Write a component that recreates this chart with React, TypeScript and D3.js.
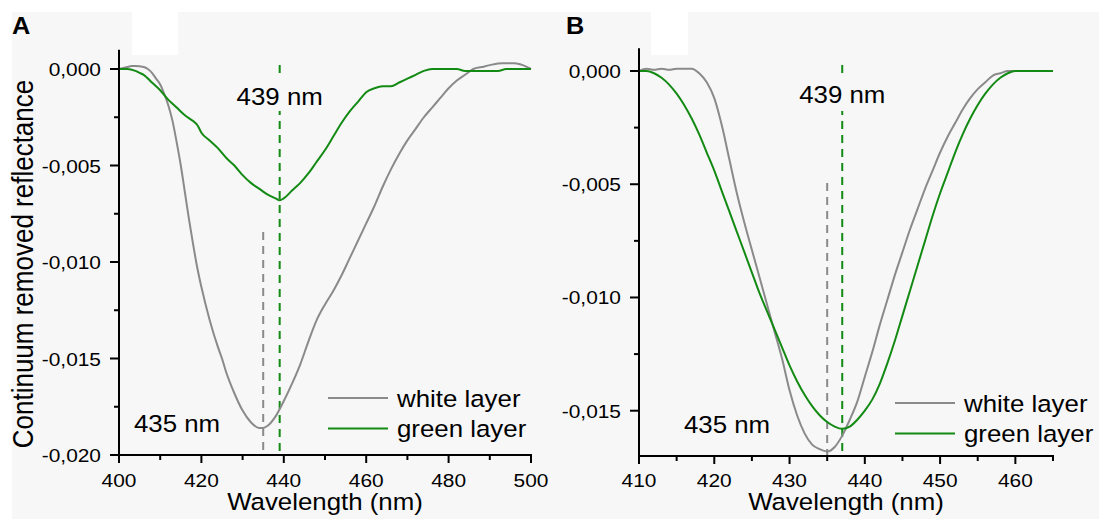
import React from 'react';
import * as d3 from 'd3';

// panel A: wavelengths (nm) and continuum removed reflectance
const whiteWaveA = [400, 402, 403, 404, 406, 407, 408, 409, 410, 411, 412, 413, 414, 415, 416, 417, 418, 419, 420, 422, 424, 425, 426, 428, 430, 432, 434, 435, 436, 438, 440, 442, 444, 446, 448, 450, 452, 454, 456, 458, 460, 462, 464, 466, 468, 470, 472, 474, 476, 478, 480, 482, 484, 486, 488, 490, 493, 496, 498, 500];
const whiteA = [0, 0.0001, 0.00015, 0.00015, 0.0001, 0, -0.0002, -0.0005, -0.0008, -0.0013, -0.0019, -0.0027, -0.0038, -0.005, -0.0064, -0.0078, -0.0091, -0.0103, -0.0113, -0.013, -0.0144, -0.015, -0.0157, -0.0168, -0.0177, -0.0183, -0.0186, -0.0186, -0.0185, -0.018, -0.0172, -0.0163, -0.0153, -0.0141, -0.013, -0.0122, -0.0115, -0.0107, -0.0098, -0.0089, -0.008, -0.0071, -0.0061, -0.0052, -0.0044, -0.0037, -0.0031, -0.0025, -0.002, -0.0015, -0.001, -0.0006, -0.0003, 0, 0.0001, 0.0002, 0.0003, 0.0003, 0.0002, 0];
const greenWaveA = [400, 402, 404, 405, 406, 408, 410, 412, 414, 416, 418, 419, 420, 422, 424, 426, 428, 430, 432, 434, 436, 438, 439, 440, 442, 444, 446, 448, 450, 452, 454, 456, 458, 460, 462, 464, 466, 468, 470, 472, 474, 476, 478, 480, 482, 484, 486, 488, 490, 492, 494, 496, 498, 500];
const greenA = [0, 0, -0.0001, -0.0002, -0.0003, -0.0007, -0.0011, -0.0016, -0.002, -0.0024, -0.0027, -0.0029, -0.0033, -0.0037, -0.0041, -0.0046, -0.005, -0.0055, -0.0059, -0.0062, -0.0065, -0.0067, -0.0068, -0.0067, -0.0063, -0.0059, -0.0054, -0.0048, -0.0042, -0.0035, -0.0028, -0.0022, -0.0017, -0.0012, -0.001, -0.0009, -0.0009, -0.0007, -0.0005, -0.0003, -0.0001, 0, 0, 0, 0, -0.0001, -0.0001, -0.0001, -0.0001, -0.0001, 0, 0, 0, 0];

// panel B
const waveB = d3.range(410, 466);
const whiteB = [0, 0.0001, 0.00005, 0.0001, 0.00005, 0.0001, 0.0001, 0.0001, -0.0001, -0.0005, -0.0012, -0.0024, -0.0039, -0.0054, -0.0067, -0.0079, -0.0091, -0.0103, -0.0115, -0.0127, -0.0141, -0.0152, -0.016, -0.0165, -0.0167, -0.0168, -0.0166, -0.0161, -0.0154, -0.0146, -0.0135, -0.0124, -0.0112, -0.0101, -0.009, -0.008, -0.007, -0.0061, -0.0052, -0.0044, -0.0036, -0.0029, -0.0023, -0.0017, -0.0012, -0.0008, -0.0005, -0.0002, -0.0001, 0, 0, 0, 0, 0, 0, 0];
const greenB = [0, 0, -0.0001, -0.0003, -0.0006, -0.001, -0.0015, -0.0021, -0.0028, -0.0036, -0.0044, -0.0053, -0.0062, -0.0071, -0.008, -0.0089, -0.0098, -0.0106, -0.0114, -0.0122, -0.013, -0.0137, -0.0143, -0.0148, -0.0152, -0.0155, -0.0157, -0.0158, -0.0157, -0.0154, -0.015, -0.0145, -0.0138, -0.0129, -0.0119, -0.0108, -0.0097, -0.0086, -0.0075, -0.0064, -0.0054, -0.0045, -0.0036, -0.0028, -0.0021, -0.0015, -0.001, -0.0006, -0.0003, -0.0001, 0, 0, 0, 0, 0, 0];

const seriesNames = ['white layer', 'green layer'];
const GRAY = '#8a8a8a';
const GREEN = '#138a13';
const BG = '#f7f7f7';
const FONT = '"Liberation Sans", Arial, sans-serif';
const SX = 1.1; // the original text is slightly wider than tall

const fmt = d3.formatLocale({ decimal: ',', thousands: '.', grouping: [3], currency: ['', ''], minus: '-' }).format('.3f');

const Txt = ({ x, y, size, anchor = 'start', weight = 'normal', children }) => (
  <text
    transform={`translate(${x},${y}) scale(${SX},1)`}
    fontSize={size}
    fontFamily={FONT}
    fontWeight={weight}
    textAnchor={anchor}
    fill="#000"
  >
    {children}
  </text>
);

const Panel = ({ cfg }) => {
  const x = d3.scaleLinear().domain(cfg.xDomain).range(cfg.xRange);
  const y = d3.scaleLinear().domain([cfg.yMin, 0]).range(cfg.yRange);
  const line = d3.line().x(d => x(d[0])).y(d => y(d[1])).curve(d3.curveMonotoneX);
  const xMajor = d3.range(cfg.xDomain[0], cfg.xDomain[1] + 0.1, cfg.xStep);
  const xMinor = d3.range(cfg.xDomain[0] + cfg.xStep / 2, cfg.xDomain[1] + 0.1, cfg.xStep);
  const nMaj = Math.round(-cfg.yMin / 0.005 + 0.0001);
  const yMajor = d3.range(0, Math.floor(-cfg.yMin / 0.005 + 1e-6) + 1).map(i => -i * 0.005);
  const yMinor = d3.range(0, nMaj + 1).map(i => -0.0025 - i * 0.005).filter(v => v >= cfg.yMin);
  const x0 = cfg.xRange[0];
  const x1 = cfg.xRange[1];
  const yb = y(cfg.yMin);
  const yt = y(0.001);
  const lg = cfg.legend;

  return (
    <g>
      <Txt x={cfg.letterX} y={34} size={23} weight="bold">{cfg.letter}</Txt>

      {/* reference lines at band minima */}
      <line x1={x(435)} x2={x(435)} y1={cfg.grayDashTop} y2={yb} stroke={GRAY} strokeWidth={2} strokeDasharray="8 6" />
      <line x1={x(cfg.greenMin)} x2={x(cfg.greenMin)} y1={65} y2={yb} stroke={GREEN} strokeWidth={2} strokeDasharray="8 6" />
      <rect x={x(cfg.greenMin) - 46} y={78} width={92} height={33} fill={BG} />
      <Txt x={x(cfg.greenMin)} y={cfg.label439Y} size={23.5} anchor="middle">439 nm</Txt>
      <Txt x={cfg.label435X} y={cfg.label435Y} size={23.5} anchor="middle">435 nm</Txt>

      <path d={line(cfg.whiteWave.map((w, i) => [w, cfg.white[i]]))} fill="none" stroke={GRAY} strokeWidth={2} />
      <path d={line(cfg.greenWave.map((w, i) => [w, cfg.green[i]]))} fill="none" stroke={GREEN} strokeWidth={2} />

      {/* axes */}
      <line x1={x0} x2={x0} y1={yt} y2={yb + 1} stroke="#000" strokeWidth={2} />
      <line x1={x0 - 1} x2={x1 + 1} y1={yb} y2={yb} stroke="#000" strokeWidth={2} />
      {xMajor.map(v => (
        <g key={'xm' + v}>
          <line x1={x(v)} x2={x(v)} y1={yb} y2={yb + 8} stroke="#000" strokeWidth={2} />
          <Txt x={x(v)} y={487} size={19} anchor="middle">{v}</Txt>
        </g>
      ))}
      {xMinor.map(v => (
        <line key={'xn' + v} x1={x(v)} x2={x(v)} y1={yb} y2={yb + 5} stroke="#000" strokeWidth={2} />
      ))}
      {yMajor.map(v => (
        <g key={'ym' + v}>
          <line x1={x0 - 9} x2={x0} y1={y(v)} y2={y(v)} stroke="#000" strokeWidth={2} />
          <Txt x={x0 - 18} y={y(v) + 7} size={19} anchor="end">{fmt(v)}</Txt>
        </g>
      ))}
      {yMinor.map(v => (
        <line key={'yn' + v} x1={x0 - 5} x2={x0} y1={y(v)} y2={y(v)} stroke="#000" strokeWidth={2} />
      ))}
      <Txt x={(x0 + x1) / 2} y={510} size={23.5} anchor="middle">Wavelength (nm)</Txt>

      {/* legend */}
      {seriesNames.map((name, i) => (
        <g key={name}>
          <line x1={lg.x} x2={lg.x + 60} y1={lg.y + i * 30.5} y2={lg.y + i * 30.5} stroke={i === 0 ? GRAY : GREEN} strokeWidth={2} />
          <Txt x={lg.x + 69} y={lg.y + i * 30.5 + 8.5} size={23.5}>{name}</Txt>
        </g>
      ))}
    </g>
  );
};

const panels = [
  {
    letter: 'A', letterX: 12,
    xDomain: [400, 500], xRange: [119, 531], xStep: 20,
    yMin: -0.02, yRange: [455, 69],
    whiteWave: whiteWaveA, white: whiteA, greenWave: greenWaveA, green: greenA,
    greenMin: 439, grayDashTop: 232,
    label439Y: 105, label435X: 177, label435Y: 432,
    legend: { x: 328, y: 398 },
  },
  {
    letter: 'B', letterX: 566,
    xDomain: [410, 465], xRange: [639, 1053], xStep: 10,
    yMin: -0.017, yRange: [456, 71],
    whiteWave: waveB, white: whiteB, greenWave: waveB, green: greenB,
    greenMin: 437, grayDashTop: 183,
    label439Y: 103, label435X: 727, label435Y: 433,
    legend: { x: 895, y: 403 },
  },
];

export default function App() {
  return (
    <div style={{ position: 'absolute', left: 0, top: 0 }}>
      <svg width={1099} height={519} style={{ display: 'block' }}>
        <rect x={0} y={0} width={1099} height={519} fill="#fff" />
        <rect x={12} y={12} width={1087} height={507} fill={BG} />
        <rect x={132} y={12} width={46} height={43} fill="#fff" />
        <rect x={651} y={12} width={37} height={43} fill="#fff" />
        <text
          transform={`translate(33,264) scale(${SX},1) rotate(-90)`}
          fontSize={26}
          fontFamily={FONT}
          textAnchor="middle"
          fill="#000"
        >
          Continuum removed reflectance
        </text>
        {panels.map(p => <Panel key={p.letter} cfg={p} />)}
      </svg>
    </div>
  );
}
